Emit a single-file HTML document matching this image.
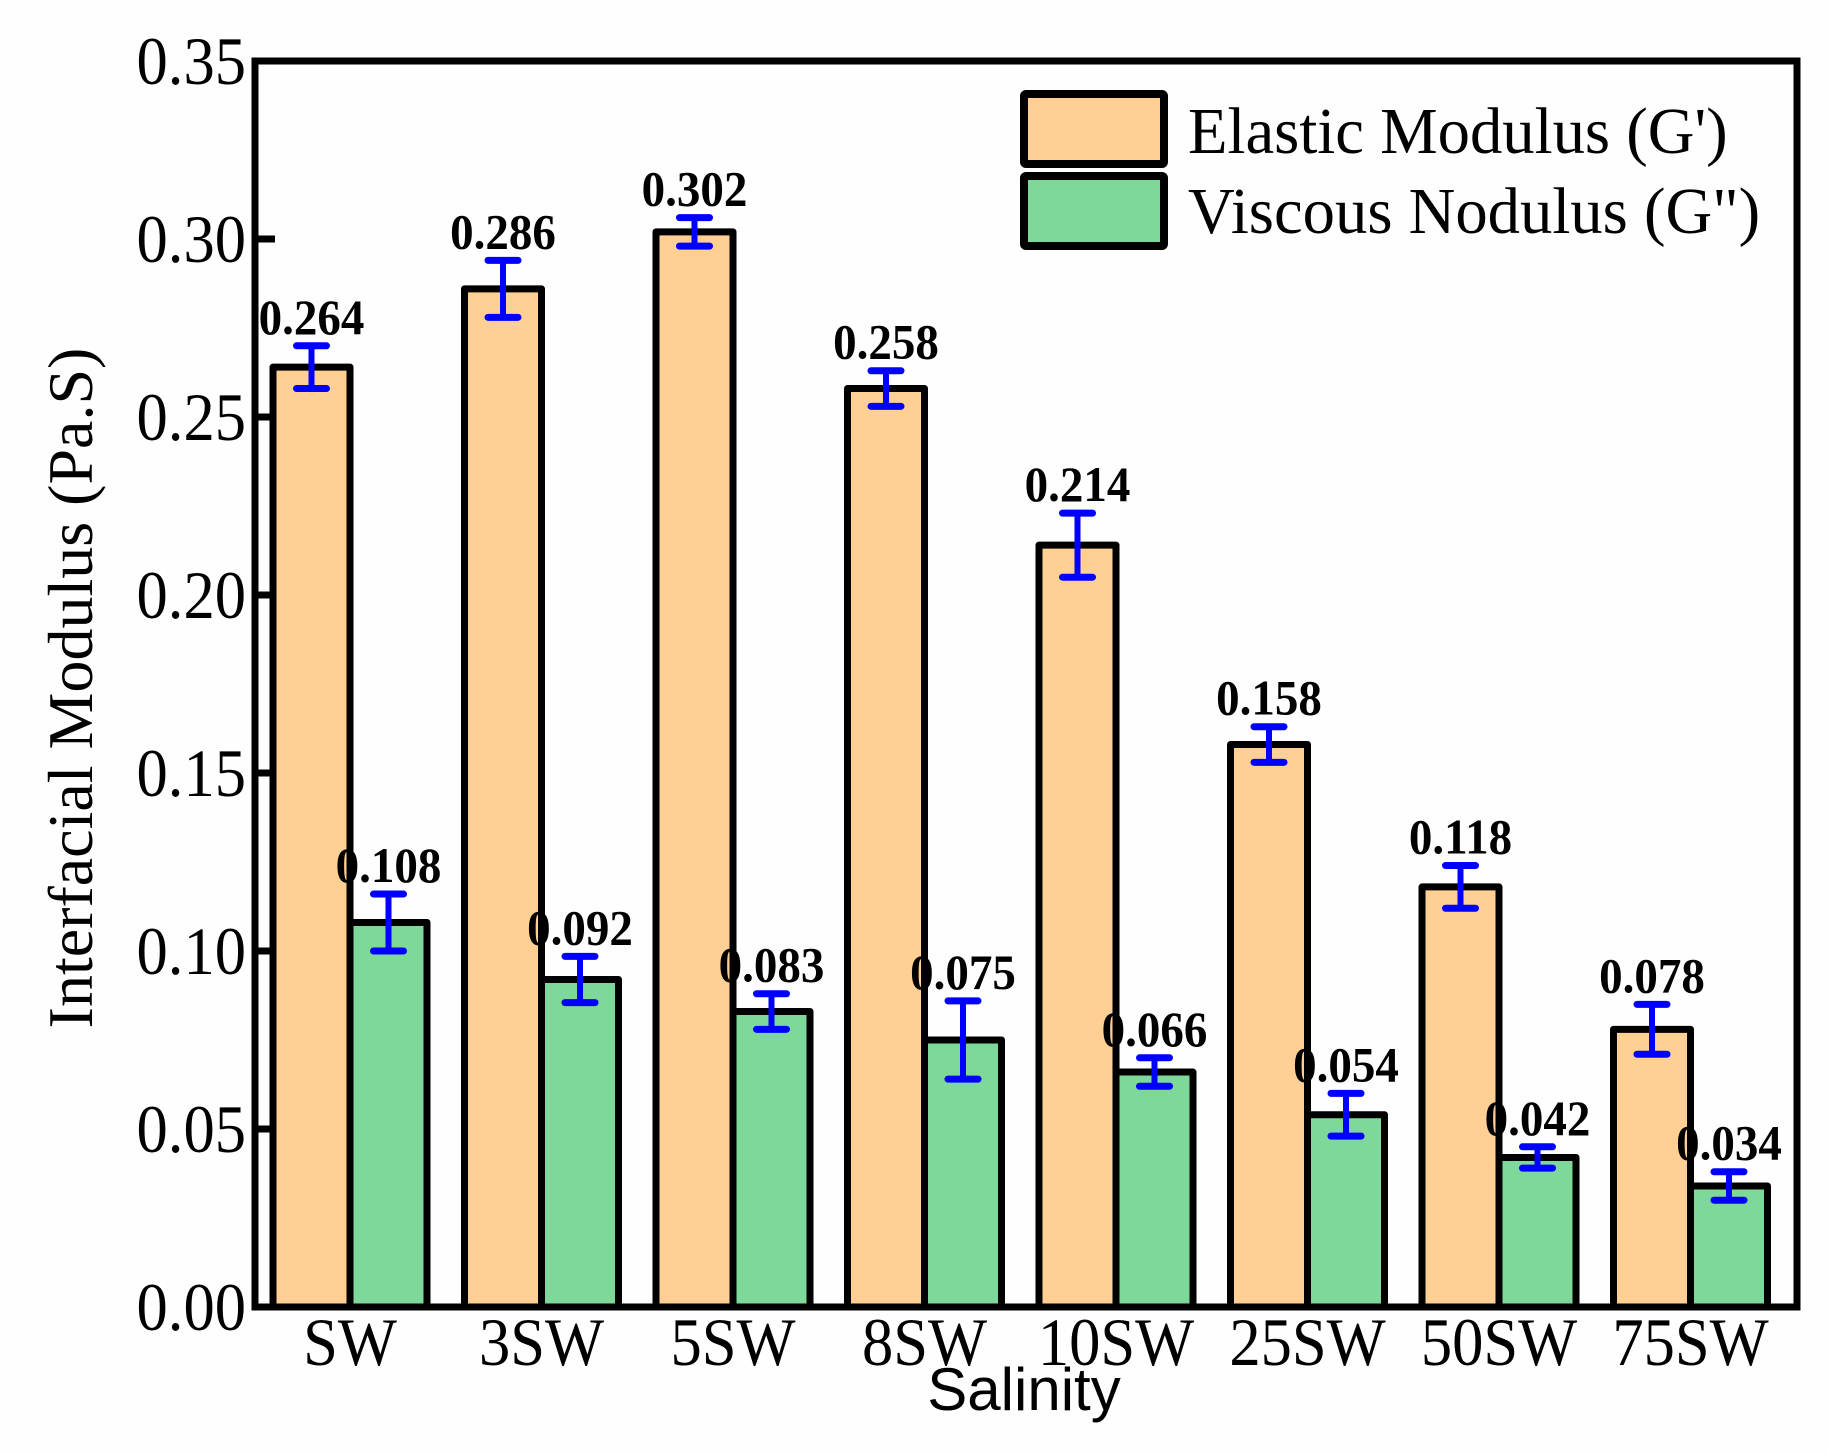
<!DOCTYPE html>
<html><head><meta charset="utf-8"><style>html,body{margin:0;padding:0;background:#fefefe}svg{display:block}</style></head>
<body>
<svg xmlns="http://www.w3.org/2000/svg" width="1828" height="1453" viewBox="0 0 1828 1453">
<rect width="1828" height="1453" fill="#fefefe"/>
<g id="bars"></g>
<script>
(function(){
var ns="http://www.w3.org/2000/svg",g=document.getElementById("bars");
function el(t,a,txt){var e=document.createElementNS(ns,t);for(var k in a)e.setAttribute(k,a[k]);if(txt!=null)e.textContent=txt;g.appendChild(e);return e;}
function tx(x,y,sx,a,txt){a.transform="translate("+x+","+y+") scale("+sx+",1)";a.x=0;a.y=0;return el("text",a,txt);}
function Y(v){return 1307-v*3560;}
var G1=[0.264,0.286,0.302,0.258,0.214,0.158,0.118,0.078],E1=[0.006,0.008,0.004,0.005,0.009,0.005,0.006,0.007];
var G2=[0.108,0.092,0.083,0.075,0.066,0.054,0.042,0.034],E2=[0.008,0.0065,0.005,0.011,0.004,0.006,0.003,0.004];
var L=["SW","3SW","5SW","8SW","10SW","25SW","50SW","75SW"];
var w=77;
for(var i=0;i<8;i++){
 var c=350+191.5*i;
 [[G1,E1,"#ffcf93",c-w],[G2,E2,"#7dd89a",c]].forEach(function(s){
  var v=s[0][i],e=s[1][i],x=s[3],xc=x+w/2;
  el("rect",{x:x,y:Y(v),width:w,height:1307-Y(v),fill:s[2],stroke:"#000","stroke-width":7,"stroke-linejoin":"round"});
  el("line",{x1:xc,x2:xc,y1:Y(v+e),y2:Y(v-e),stroke:"#0000ff","stroke-width":6});
  el("line",{x1:xc-15,x2:xc+15,y1:Y(v+e),y2:Y(v+e),stroke:"#0000ff","stroke-width":7,"stroke-linecap":"round"});
  el("line",{x1:xc-15,x2:xc+15,y1:Y(v-e),y2:Y(v-e),stroke:"#0000ff","stroke-width":7,"stroke-linecap":"round"});
  tx(xc,Y(v+e)-12,0.94,{"text-anchor":"middle","font-family":"Liberation Serif, serif","font-weight":"bold","font-size":50},v.toFixed(3));
 });
 tx(c,1365,0.92,{"text-anchor":"middle","font-family":"Liberation Serif, serif","font-size":68},L[i]);
}
for(var j=0;j<=7;j++){
 var v=j*0.05,y=Y(v);
 el("line",{x1:255,x2:275,y1:y,y2:y,stroke:"#000","stroke-width":7});
 tx(246,y+23,0.92,{"text-anchor":"end","font-family":"Liberation Serif, serif","font-size":68},v.toFixed(2));
}
el("rect",{x:255,y:61,width:1542,height:1246,fill:"none",stroke:"#000","stroke-width":7});
el("rect",{x:1024,y:94,width:140,height:70,fill:"#ffcf93",stroke:"#000","stroke-width":8,rx:2});
el("rect",{x:1024,y:176,width:140,height:70,fill:"#7dd89a",stroke:"#000","stroke-width":8,rx:2});
tx(1188,153,0.98,{"font-family":"Liberation Serif, serif","font-size":66},"Elastic Modulus (G')");
tx(1188,233,0.98,{"font-family":"Liberation Serif, serif","font-size":66},"Viscous Nodulus (G\")");
el("text",{x:1024,y:1410,"text-anchor":"middle","font-family":"Liberation Sans, sans-serif","font-size":60},"Salinity");
el("text",{x:0,y:0,"text-anchor":"middle","font-family":"Liberation Serif, serif","font-size":64,transform:"translate(92,688) rotate(-90)"},"Interfacial Modulus (Pa.S)");
})();
</script>
</svg>
</body></html>
